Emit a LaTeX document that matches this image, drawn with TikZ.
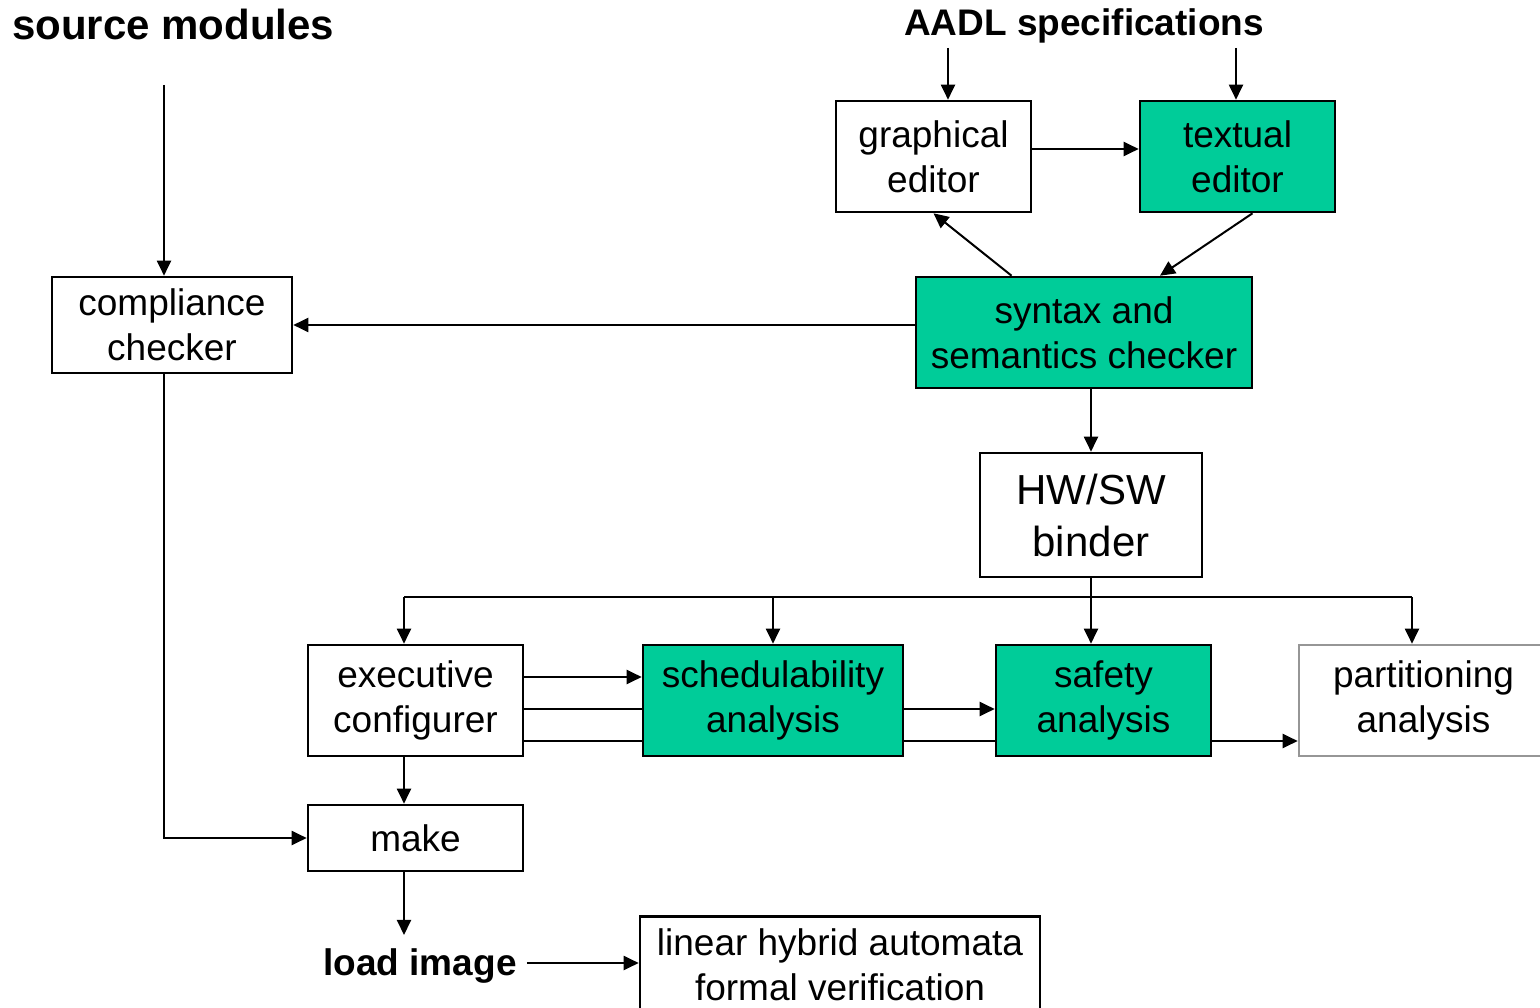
\documentclass[tikz,border=0pt]{standalone}
\usepackage{fontspec}
\setmainfont{Liberation Sans}
\usetikzlibrary{arrows.meta,calc,backgrounds}
\definecolor{toolgreen}{RGB}{0,204,153}
\definecolor{framegray}{RGB}{150,150,150}
\begin{document}
\begin{tikzpicture}[x=1pt,y=-1pt,
  box/.style={draw=black,line width=2.6pt,fill=white,align=center,inner sep=0pt,
    font=\fontsize{37}{45}\selectfont},
  tool/.style={box,fill=toolgreen},
  bigbox/.style={box,font=\fontsize{42}{52}\selectfont},
  title/.style={font=\fontsize{#1}{#1}\selectfont\bfseries,inner sep=0pt},
  flow/.style={line width=2pt,-{Triangle[length=15pt,width=14pt]}},
  wire/.style={line width=2pt}]
\useasboundingbox (0,0) rectangle (1540,1008);

% helper rows and columns
\coordinate (srccol) at (164,85);
\coordinate (colA) at (404,597);
\coordinate (colP) at (1412,597);
\coordinate (ax1) at (948,0);
\coordinate (ax2) at (1236,0);
\coordinate (r1) at (0,677);
\coordinate (r2) at (0,709);
\coordinate (r3) at (0,741);
\coordinate (r0) at (0,149);
\coordinate (r4) at (0,963);

% headings
\node[title=42,anchor=base west] (src) at (12,40) {source modules};
\node[title=37,anchor=base,inner sep=4pt] (aadl) at (1084,36) {AADL specifications};

% tool boxes
\node[box,minimum width=195pt,minimum height=111pt] (graph) at (933.5,156.5) {graphical\\editor};
\node[tool,minimum width=195pt,minimum height=111pt] (txt) at (1237.5,156.5) {textual\\editor};
\node[tool,minimum width=336pt,minimum height=111pt] (syn) at (1084,332.5) {syntax and\\semantics checker};
\node[box,minimum width=240pt,minimum height=96pt] (comp) at (172,325) {compliance\\checker};
\node[bigbox,minimum width=222pt,minimum height=124pt] (bind) at (1091,515) {HW/SW\\binder};
\node[box,minimum width=215pt,minimum height=111pt] (exec) at (415.5,700.5) {executive\\configurer};
\node[tool,minimum width=260pt,minimum height=111pt] (sched) at (773,700.5) {schedulability\\analysis};
\node[tool,minimum width=215pt,minimum height=111pt] (safe) at (1103.5,700.5) {safety\\analysis};
\node[box,draw=framegray,minimum width=249pt,minimum height=111pt] (part) at (1423.5,700.5) {partitioning\\analysis};
\node[box,minimum width=215pt,minimum height=66pt] (make) at (415.5,838) {make};
\node[title=37,anchor=base,inner xsep=10pt,inner ysep=13pt] (load) at (420,975) {load image};
\node[box,anchor=north,minimum width=400pt,inner ysep=12pt,text depth=30pt] (lha) at (840,915)
  {linear hybrid automata\\formal verification};

% connectors passing behind the analysis boxes
\begin{scope}[on background layer]
  \draw[flow] (exec.east |- r2) -- (safe.west |- r2);
  \draw[flow] (exec.east |- r3) -- (part.west |- r3);
\end{scope}

% specification flow
\draw[flow] (aadl.south -| ax1) -- (graph.north -| ax1);
\draw[flow] (aadl.south -| ax2) -- (txt.north -| ax2);
\draw[flow] (graph.east |- r0) -- (txt.west |- r0);
\draw[flow] ($(syn.north west)!0.286!(syn.north east)$) -- (graph.south);
\draw[flow] ($(txt.south)+(15,0)$) -- ($(syn.north)+(76,0)$);
\draw[flow] (syn.west |- comp.east) -- (comp.east);
\draw[flow] (srccol) -- (comp.north -| srccol);
\draw[flow] (syn.south -| bind.north) -- (bind.north);

% binder fan-out
\draw[flow] (bind.south) -- (safe.north -| bind.south);
\draw[wire] (colA) -- (colP);
\draw[flow] (colA) -- (exec.north -| colA);
\draw[flow] (colA -| sched.north) -- (sched.north);
\draw[flow] (colP) -- (part.north -| colP);

% configuration and build
\draw[flow] (exec.east |- r1) -- (sched.west |- r1);
\draw[flow] (exec.south -| colA) -- (make.north -| colA);
\draw[flow] (comp.south -| srccol) |- (make.west);
\draw[flow] (make.south -| colA) -- (load.north -| colA);
\draw[flow] (load.east |- r4) -- (lha.west |- r4);
\end{tikzpicture}
\end{document}
